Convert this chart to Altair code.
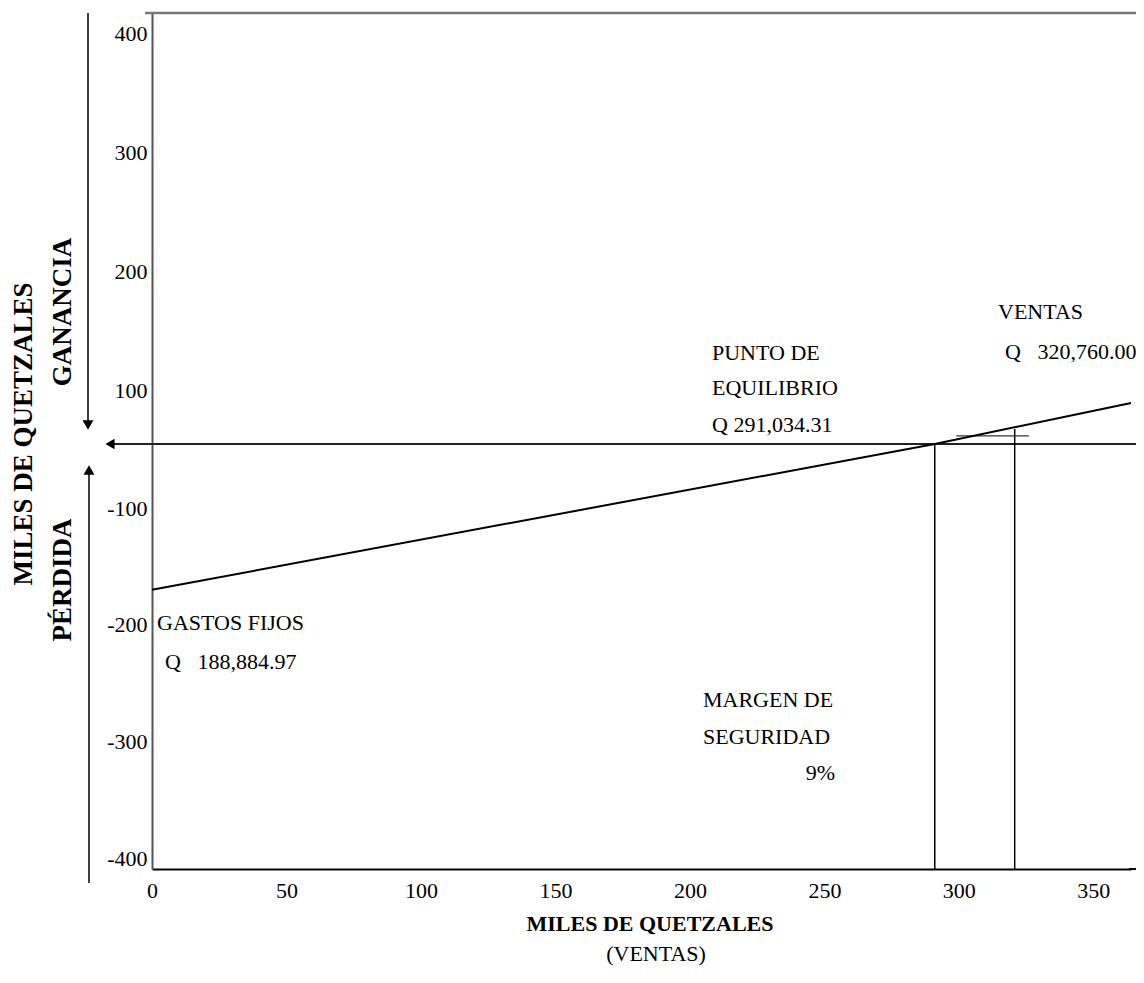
import altair as alt
import pandas as pd

# ---- values (miles de quetzales) ----
ventas = [0, 291.03431, 364]          # x: ventas
ganancia = [-170, 0, 76]              # y: ganancia / pérdida (línea de resultado)
punto_equilibrio = 291.03431
ventas_actuales = 320.76
ganancia_actual = 28
margen_x = [299, 326]
margen_y = 15
x_ticks = [0, 50, 100, 150, 200, 250, 300, 350]
y_ticks = [-400, -300, -200, -100, 100, 200, 300, 400]
X_MAX = 364
Y_MIN, Y_MAX = -409, 417

W, H = 979, 856
serif = "Liberation Serif"

xs = alt.Scale(domain=[0, X_MAX], nice=False, zero=False)
# piecewise axis: evenly spaced labels, zero sits between 100 and -100
ys = alt.Scale(domain=[Y_MIN, -100, 0, 100, Y_MAX], range=[856, 495, 431, 377, 0],
               nice=False, zero=False)

one = pd.DataFrame({"k": [0]})
line_df = pd.DataFrame({"ventas": ventas, "ganancia": ganancia})

line = alt.Chart(line_df).mark_line(color="black", strokeWidth=2).encode(
    x=alt.X("ventas:Q", scale=xs, axis=alt.Axis(
        values=x_ticks, title=None, ticks=False, grid=False, labelFlush=False,
        labelFont=serif, labelFontSize=22, labelColor="black", labelPadding=11,
        domainColor="black", domainWidth=2, labelExpr="'' + datum.value")),
    y=alt.Y("ganancia:Q", scale=ys, axis=alt.Axis(
        values=y_ticks, title=None, ticks=False, grid=False,
        labelFont=serif, labelFontSize=22, labelColor="black", labelPadding=5,
        domainColor="#555", domainWidth=2, labelExpr="'' + datum.value")),
)

zero_line = alt.Chart(one).mark_rule(color="#222", strokeWidth=2).encode(
    x=alt.value(-45), x2=alt.value(W + 5), y=alt.datum(0))
zero_head = alt.Chart(one).mark_point(shape="triangle-left", filled=True, color="black",
                                      size=110, opacity=1).encode(
    x=alt.value(-42), y=alt.datum(0))
bottom_ext = alt.Chart(one).mark_rule(color="black", strokeWidth=2).encode(
    x=alt.value(W - 2), x2=alt.value(W + 5), y=alt.value(H))

be_rule = alt.Chart(one).mark_rule(color="black", strokeWidth=1.5).encode(
    x=alt.datum(punto_equilibrio), y=alt.datum(0), y2=alt.datum(Y_MIN))
sales_rule = alt.Chart(one).mark_rule(color="black", strokeWidth=1.5).encode(
    x=alt.datum(ventas_actuales), y=alt.datum(ganancia_actual), y2=alt.datum(Y_MIN))
margin_rule = alt.Chart(one).mark_rule(color="#333", strokeWidth=1.2).encode(
    x=alt.datum(margen_x[0]), x2=alt.datum(margen_x[1]), y=alt.datum(margen_y))

top_rule = alt.Chart(one).mark_rule(color="#777", strokeWidth=2.5).encode(
    x=alt.value(-7), x2=alt.value(W + 5), y=alt.value(0))

gan_shaft = alt.Chart(one).mark_rule(color="black", strokeWidth=1.5).encode(
    x=alt.value(-64), y=alt.value(0), y2=alt.value(410))
gan_head = alt.Chart(one).mark_point(shape="triangle-down", filled=True, color="black",
                                     size=120, opacity=1).encode(
    x=alt.value(-64), y=alt.value(412))
per_shaft = alt.Chart(one).mark_rule(color="black", strokeWidth=1.5).encode(
    x=alt.value(-63), y=alt.value(458), y2=alt.value(870))
per_head = alt.Chart(one).mark_point(shape="triangle-up", filled=True, color="black",
                                     size=120, opacity=1).encode(
    x=alt.value(-63), y=alt.value(457))


def txt(s, x, y, align="left", size=22, weight="normal", angle=0):
    return alt.Chart(one).mark_text(
        text=s, align=align, baseline="middle", font=serif, fontSize=size,
        fontWeight=weight, angle=angle, color="black").encode(
        x=alt.value(x), y=alt.value(y))


NB = "\u00a0"
texts = [
    txt("PUNTO DE", 560, 340),
    txt("EQUILIBRIO", 560, 375),
    txt("Q 291,034.31", 560, 412),
    txt("VENTAS", 846, 299),
    txt("Q" + NB * 3 + "320,760.00", 853, 339),
    txt("GASTOS FIJOS", 5, 610),
    txt("Q" + NB * 3 + "188,884.97", 13, 649),
    txt("MARGEN DE", 551, 687),
    txt("SEGURIDAD", 551, 724),
    txt("9%", 683, 760, align="right"),
    txt("MILES DE QUETZALES", 498, 911, align="center", weight="bold"),
    txt("(VENTAS)", 504, 941, align="center"),
    txt("MILES DE QUETZALES", -128, 421, align="center", size=27, weight="bold", angle=270),
    txt("GANANCIA", -89, 299, align="center", size=27, weight="bold", angle=270),
    txt("PÉRDIDA", -89, 567, align="center", size=27, weight="bold", angle=270),
]

chart = alt.layer(
    top_rule, zero_line, zero_head, bottom_ext, be_rule, sales_rule, margin_rule, line,
    gan_shaft, gan_head, per_shaft, per_head, *texts
).properties(
    width=W, height=H,
    padding={"left": 144, "top": 5, "right": 5, "bottom": 101},
    autosize=alt.AutoSizeParams(type="none"),
    background="white",
).configure_view(stroke=None)

chart.save("out.html", embed_options={"renderer": "svg", "actions": False})
